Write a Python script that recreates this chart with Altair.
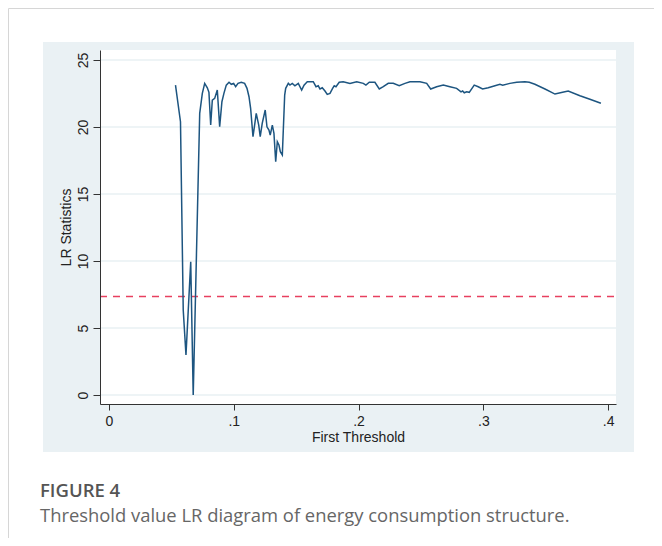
import altair as alt
import pandas as pd

# First threshold values and LR statistics
threshold = [0.0533, 0.0573, 0.0595, 0.0617, 0.0655, 0.0675, 0.0727, 0.0748, 0.0767, 0.0788,
             0.0801, 0.0815, 0.0828, 0.0847, 0.0868, 0.0887, 0.0905, 0.0921, 0.0940, 0.0962,
             0.0980, 0.0999, 0.1015, 0.1034, 0.1060, 0.1087, 0.1106, 0.1122, 0.1135, 0.1154,
             0.1167, 0.1180, 0.1200, 0.1212, 0.1228, 0.1252, 0.1266, 0.1282, 0.1292, 0.1309,
             0.1322, 0.1336, 0.1349, 0.1362, 0.1373, 0.1389, 0.1408, 0.1416, 0.1437, 0.1450,
             0.1469, 0.1490, 0.1517, 0.1544, 0.1563, 0.1589, 0.1637, 0.1659, 0.1677, 0.1691,
             0.1709, 0.1731, 0.1749, 0.1771, 0.1792, 0.1805, 0.1819, 0.1845, 0.1877, 0.1931,
             0.1985, 0.2038, 0.2059, 0.2086, 0.2131, 0.2166, 0.2198, 0.2238, 0.2278, 0.2326,
             0.2372, 0.2412, 0.2492, 0.2546, 0.2578, 0.2626, 0.2679, 0.2732, 0.2786, 0.2821,
             0.2834, 0.2847, 0.2866, 0.2887, 0.2927, 0.2959, 0.2994, 0.3039, 0.3093, 0.3133,
             0.3155, 0.3213, 0.3267, 0.3333, 0.3368, 0.3413, 0.3494, 0.3574, 0.3635, 0.3680,
             0.3774, 0.3854, 0.3942]
lr_stat = [23.13, 20.40, 6.34, 2.99, 9.95, 0.00, 21.02, 22.51, 23.26, 22.93,
           22.59, 20.15, 22.01, 22.14, 22.76, 20.02, 21.89, 22.51, 23.13, 23.34,
           23.19, 23.26, 23.01, 23.26, 23.34, 23.26, 22.89, 22.26, 21.40, 19.28,
           20.15, 21.02, 20.15, 19.28, 20.28, 21.27, 20.02, 19.78, 19.40, 20.15,
           19.53, 17.41, 18.90, 18.66, 18.16, 17.91, 22.39, 22.89, 23.26, 23.13,
           23.26, 23.08, 23.26, 22.76, 23.13, 23.38, 23.38, 23.01, 23.08, 22.84,
           22.93, 22.69, 22.44, 22.51, 22.89, 23.08, 23.01, 23.34, 23.38, 23.26,
           23.38, 23.26, 23.13, 23.34, 23.34, 22.84, 23.01, 23.26, 23.26, 23.08,
           23.26, 23.38, 23.38, 23.26, 22.84, 23.01, 23.13, 23.01, 22.89, 22.63,
           22.69, 22.56, 22.63, 22.59, 23.13, 23.01, 22.84, 22.93, 23.08, 23.19,
           23.13, 23.26, 23.34, 23.38, 23.34, 23.19, 22.84, 22.46, 22.59, 22.69,
           22.34, 22.07, 21.77]
critical_value = [7.35]
y_ticks = [0, 5, 10, 15, 20, 25]
x_ticks = [0, 0.1, 0.2, 0.3, 0.4]
caption_label = "FIGURE 4"
caption_text = "Threshold value LR diagram of energy consumption structure."

W, H = 516, 354
x_dom = [-0.0072, 0.4063]
y_dom = [-0.67, 25.75]

df = pd.DataFrame({"threshold": threshold, "lr": lr_stat})
xs = alt.Scale(domain=x_dom, nice=False, zero=False)
ys = alt.Scale(domain=y_dom, nice=False, zero=False)

one = alt.Data(values=[{"k": 1}])

panel = alt.Chart(one).mark_rect(color="#eaf1f4").encode(
    x=alt.value(-57), x2=alt.value(534), y=alt.value(-8), y2=alt.value(402))
plot_bg = alt.Chart(one).mark_rect(color="white").encode(
    x=alt.value(0), x2=alt.value(W), y=alt.value(0), y2=alt.value(H))

grid = alt.Chart(pd.DataFrame({"g": y_ticks})).mark_rule(
    color="#e9f1f3", strokeWidth=1.6).encode(
    y=alt.Y("g:Q", scale=ys), x=alt.value(0), x2=alt.value(W))

crit = alt.Chart(pd.DataFrame({"c": critical_value})).mark_rule(
    color="#e8405f", strokeWidth=1.6, strokeDash=[7, 6]).encode(
    y=alt.Y("c:Q", scale=ys), x=alt.value(0), x2=alt.value(W))

line = alt.Chart(df).mark_line(color="#1d5580", strokeWidth=1.5).encode(
    x=alt.X("threshold:Q", scale=xs, title="First Threshold",
            axis=alt.Axis(values=x_ticks, grid=False, zindex=1, tickSize=6,
                          labelPadding=4, titlePadding=2, titleFontWeight="normal",
                          labelExpr="datum.value == 0 ? '0' : replace(format(datum.value, '.1f'), '0.', '.')")),
    y=alt.Y("lr:Q", scale=ys, title="LR Statistics",
            axis=alt.Axis(values=y_ticks, grid=False, zindex=1, tickSize=7,
                          labelPadding=3, labelAngle=270, labelAlign="center",
                          labelBaseline="bottom", titlePadding=3,
                          titleFontWeight="normal")),
)

border_left = alt.Chart(one).mark_rule(color="#d6d6d6", strokeWidth=1).encode(
    x=alt.value(-91.5), y=alt.value(-41.5), y2=alt.value(488))
border_top = alt.Chart(one).mark_rule(color="#d6d6d6", strokeWidth=1).encode(
    x=alt.value(-91.5), x2=alt.value(560), y=alt.value(-41.5))

cap1 = alt.Chart(one).mark_text(text=caption_label, font="Open Sans", fontSize=18.5,
                                fontWeight=600, color="#555555", align="left",
                                baseline="alphabetic").encode(
    x=alt.value(-60), y=alt.value(447))
cap2 = alt.Chart(one).mark_text(text=caption_text, font="Open Sans", fontSize=18.4,
                                color="#666666", align="left",
                                baseline="alphabetic").encode(
    x=alt.value(-60), y=alt.value(472))

chart = alt.layer(panel, plot_bg, grid, crit, line, border_left, border_top, cap1, cap2).properties(
    width=W, height=H,
    background="white",
    autosize=alt.AutoSizeParams(type="none"),
    padding={"left": 92, "top": 42, "right": 38, "bottom": 134},
).configure_view(stroke=None).configure_axis(
    domainColor="#333333", tickColor="#333333", labelColor="#222222",
    titleColor="#222222", labelFont="Liberation Sans", titleFont="Liberation Sans",
    labelFontSize=14, titleFontSize=14, titleFontWeight="normal",
    domainWidth=1, tickWidth=1,
)

chart.save("out.html", embed_options={"renderer": "svg", "actions": False})
